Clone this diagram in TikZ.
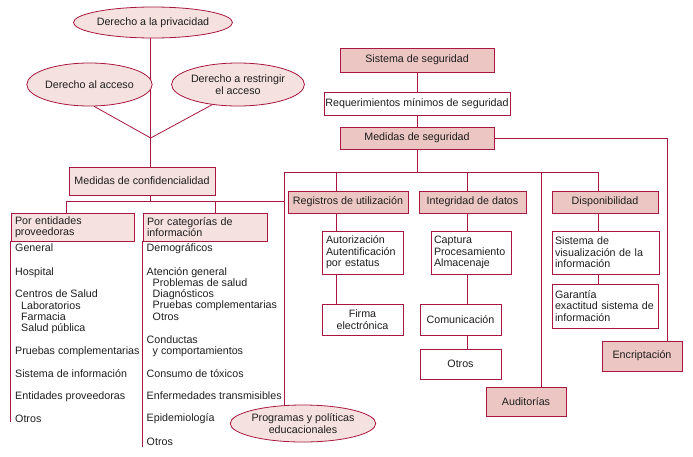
\documentclass[tikz,border=0pt]{standalone}
\usepackage{fontspec}
\setmainfont{Liberation Sans}
\usetikzlibrary{shapes.geometric,backgrounds}
\definecolor{bord}{HTML}{A8173F}
\definecolor{dk}{HTML}{EBC6C2}
\definecolor{lt}{HTML}{F5E1DF}
\definecolor{txt}{HTML}{1E1E1E}
\begin{document}
\begin{tikzpicture}[x=1pt,y=-1pt,
  font=\fontsize{10.7}{11.5}\selectfont,
  conn/.style={draw=bord, line width=0.8pt},
  bx/.style={draw=bord, line width=0.8pt, inner xsep=4pt, inner ysep=1pt, text=txt},
  dbox/.style={bx, fill=dk},
  lbox/.style={bx, fill=lt},
  wbox/.style={bx, fill=white},
  ell/.style={ellipse, draw=bord, line width=0.8pt, fill=lt, inner sep=0pt, align=center, text=txt},
  item/.style={anchor=base west, inner sep=0pt, text=txt}]
\useasboundingbox (0,0) rectangle (693,456);

% ---------- left part ----------
\node[ell, minimum width=128pt, minimum height=31pt] (priv) at (153,22.5) {Derecho a la privacidad};
\node[ell, minimum width=107pt, minimum height=43pt] (acc) at (89.5,84.5) {Derecho al acceso};
\node[ell, minimum width=106pt, minimum height=43pt] (restr) at (238,84.5) {Derecho a restringir\\el acceso};
\node[lbox, minimum width=146pt, minimum height=28pt] (conf) at (142,181) {Medidas de confidencialidad};
\node[lbox, minimum width=123pt, minimum height=28pt, text width=115pt, align=left] (ent) at (72.5,227) {Por entidades\\proveedoras};
\node[lbox, minimum width=124pt, minimum height=28pt, text width=116pt, align=left] (cat) at (205,227) {Por categorías de\\información};
\node[ell, minimum width=120pt, minimum height=37pt] (prog) at (303,423.5) {Programas y políticas\\educacionales};

% list items
\node[item] (e1) at (15,251.5) {General};
\node[item] (e2) at (15,275.5) {Hospital};
\node[item] (e3) at (15,297.5) {Centros de Salud};
\node[item] (e4) at (21,309) {Laboratorios};
\node[item] (e5) at (21,320.5) {Farmacia};
\node[item] (e6) at (21,331.5) {Salud pública};
\node[item] (e7) at (15,354.5) {Pruebas complementarias};
\node[item] (e8) at (15,377.5) {Sistema de información};
\node[item] (e9) at (15,399.5) {Entidades proveedoras};
\node[item] (e10) at (15,422.5) {Otros};

\node[item] (c1) at (146.5,251.5) {Demográficos};
\node[item] (c2) at (146.5,275.5) {Atención general};
\node[item] (c3) at (152.5,286.5) {Problemas de salud};
\node[item] (c4) at (152.5,297.5) {Diagnósticos};
\node[item] (c5) at (152.5,308.5) {Pruebas complementarias};
\node[item] (c6) at (152.5,320) {Otros};
\node[item] (c7) at (146.5,343.5) {Conductas};
\node[item] (c8) at (152.5,354.5) {y comportamientos};
\node[item] (c9) at (146.5,377.5) {Consumo de tóxicos};
\node[item] (c10) at (146.5,399.5) {Enfermedades transmisibles};
\node[item] (c11) at (146.5,421.5) {Epidemiología};
\node[item] (c12) at (146.5,445.5) {Otros};

% ---------- right part ----------
\node[dbox, minimum width=154pt, minimum height=24pt] (sis) at (417,60) {Sistema de seguridad};
\node[wbox, minimum width=186pt, minimum height=23pt, inner xsep=1pt] (req) at (417,103.5) {Requerimientos mínimos de seguridad};
\node[dbox, minimum width=154pt, minimum height=22pt] (med) at (417,138) {Medidas de seguridad};
\node[dbox, minimum width=120pt, minimum height=22pt, inner xsep=1pt] (reg) at (348,202) {Registros de utilización};
\node[dbox, minimum width=107pt, minimum height=22pt] (integ) at (472.5,202) {Integridad de datos};
\node[dbox, minimum width=106pt, minimum height=22pt] (disp) at (605,202) {Disponibilidad};
\node[wbox, minimum width=81pt, minimum height=43pt, text width=73pt, inner xsep=4pt, align=left] (aut) at (362.5,252.5) {Autorización\\Autentificación\\por estatus};
\node[wbox, minimum width=81pt, minimum height=31pt, align=center] (firma) at (362.5,319.5) {Firma\\electrónica};
\node[wbox, minimum width=80pt, minimum height=43pt, text width=74pt, inner xsep=3pt, align=left] (cap) at (471,252.5) {Captura\\Procesamiento\\Almacenaje};
\node[wbox, minimum width=81pt, minimum height=31pt] (com) at (460.5,319.5) {Comunicación};
\node[wbox, minimum width=81pt, minimum height=30pt] (otros) at (460.5,364) {Otros};
\node[wbox, minimum width=107pt, minimum height=43pt, text width=101pt, inner xsep=3pt, align=left] (vis) at (605.5,252.5) {Sistema de\\visualización de la\\información};
\node[wbox, minimum width=106pt, minimum height=44pt, text width=100pt, inner xsep=3pt, align=left] (gar) at (605,306) {Garantía\\exactitud sistema de\\información};
\node[dbox, minimum width=80pt, minimum height=30pt] (encr) at (642,356) {Encriptación};
\node[dbox, minimum width=80pt, minimum height=29pt] (aud) at (526,401.5) {Auditorías};

% helper coordinates
\coordinate (xC) at (150.7,0);
\coordinate (jc) at (150.7,138);
\coordinate (lb) at (284,201);
\coordinate (xe) at (66,0);
\coordinate (xk) at (215,0);
\coordinate (busL) at (284,172);
\coordinate (busR) at (598,172);
\coordinate (xR) at (336,0);
\coordinate (xI) at (467,0);
\coordinate (xA) at (541,0);
\coordinate (xD) at (598,0);
\coordinate (xE) at (667,0);

\begin{pgfonlayer}{background}
% left
\draw[conn] (priv.south -| xC) -- (conf.north -| xC);
\draw[conn] (acc.-78) -- (jc) -- (restr.-142);
\draw[conn] (conf.south -| xC) -- (lb -| xC);
\draw[conn] (ent.north -| xe) |- (lb);
\draw[conn] (cat.north -| xk) |- (lb);
\draw[conn] (ent.south west) -- ++(0,181);
\draw[conn] (cat.south west) -- ++(0,206);
\draw[conn] (busL) -- (prog.north -| busL);
% right
\draw[conn] (sis.south) -- (req.north);
\draw[conn] (req.south) -- (med.north);
\draw[conn] (med.south) -- (busL -| med.south);
\draw[conn] (busL) -- (busR);
\draw[conn] (reg.north -| xR) -- (busL -| xR);
\draw[conn] (integ.north -| xI) -- (busL -| xI);
\draw[conn] (disp.north -| xD) -- (busL -| xD);
\draw[conn] (aud.north -| xA) -- (busL -| xA);
\draw[conn] (reg.south -| xR) -- (aut.north -| xR);
\draw[conn] (aut.south -| xR) -- (firma.north -| xR);
\draw[conn] (integ.south -| xI) -- (cap.north -| xI);
\draw[conn] (cap.south -| xI) -- (com.north -| xI);
\draw[conn] (com.south -| xI) -- (otros.north -| xI);
\draw[conn] (disp.south -| xD) -- (vis.north -| xD);
\draw[conn] (vis.south -| xD) -- (gar.north -| xD);
\draw[conn] (med.east) -| (encr.north -| xE);
\end{pgfonlayer}
\end{tikzpicture}
\end{document}
